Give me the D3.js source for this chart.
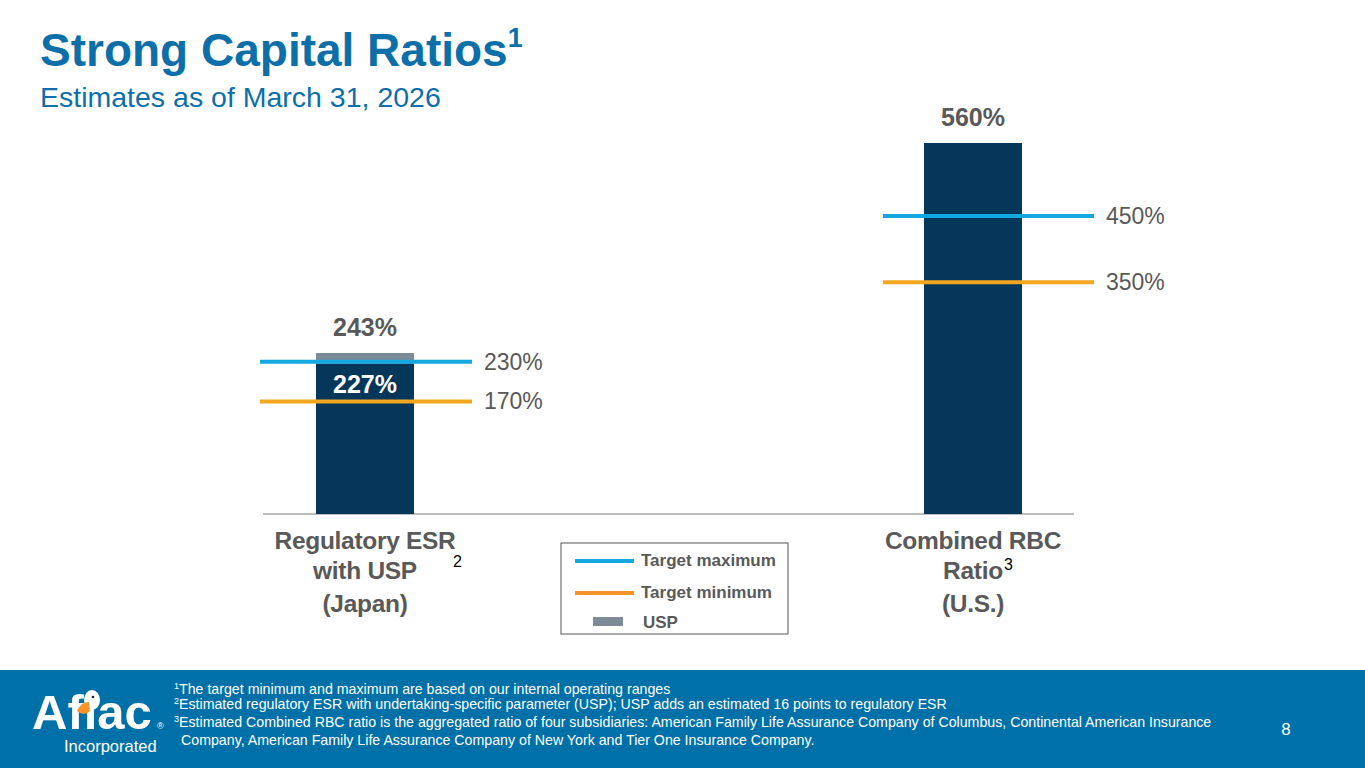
<!DOCTYPE html>
<html>
<head>
<meta charset="utf-8">
<script src="https://cdn.jsdelivr.net/npm/d3@7"></script>
<style>
  body { margin: 0; background: #fff; }
  svg { display: block; font-family: "Liberation Sans", Arial, sans-serif; }
</style>
</head>
<body>
<div id="chart"></div>
<script>
// chart data
const categories = ["Regulatory ESR with USP (Japan)", "Combined RBC Ratio (U.S.)"];
const categoryLines = [["Regulatory ESR", "with USP", "(Japan)"], ["Combined RBC", "Ratio", "(U.S.)"]];
const categoryNotes = ["2", "3"];
const baseValues = [227, 560];
const uspValues = [16, 0];
const totalLabels = ["243%", "560%"];
const baseLabels = ["227%", null];
const targetMax = [230, 450];
const targetMin = [170, 350];
const footnotes = [
  ["1", "The target minimum and maximum are based on our internal operating ranges"],
  ["2", "Estimated regulatory ESR with undertaking-specific parameter (USP); USP adds an estimated 16 points to regulatory ESR"],
  ["3", "Estimated Combined RBC ratio is the aggregated ratio of four subsidiaries: American Family Life Assurance Company of Columbus, Continental American Insurance"],
  ["", "Company, American Family Life Assurance Company of New York and Tier One Insurance Company."]
];

const W = 1365, H = 768;
const navy = "#04375a", blue = "#12a8e0", orange = "#f2a71f", usp = "#7d8b99";
const grey = "#595959", titleBlue = "#0c6fa9";

const svg = d3.select("#chart").append("svg")
  .attr("width", W).attr("height", H);

// title
const title = svg.append("text").attr("x", 40).attr("y", 66)
  .attr("fill", titleBlue).attr("font-size", 46).attr("font-weight", "bold");
title.append("tspan").text("Strong Capital Ratios");
title.append("tspan").text("1").attr("font-size", 27).attr("dy", -19);
svg.append("text").attr("x", 40).attr("y", 107)
  .attr("fill", titleBlue).attr("font-size", 28.5)
  .text("Estimates as of March 31, 2026");

// scales
const x = d3.scalePoint().domain(categories).range([365, 973]);
const y = d3.scaleLinear().domain([0, 560]).range([514, 143]);
const barW = 98;
// horizontal reach of target lines around each bar centre (layout only)
const lineSpan = [[-105, 107], [-90, 121]];

// baseline
svg.append("line")
  .attr("x1", 263).attr("x2", 1074)
  .attr("y1", y(0)).attr("y2", y(0))
  .attr("stroke", "#a6a6a6").attr("stroke-width", 1.5);

const g = svg.selectAll(".cat").data(categories).join("g").attr("class", "cat");

// base bars
g.append("rect")
  .attr("x", d => x(d) - barW / 2)
  .attr("width", barW)
  .attr("y", (d, i) => y(baseValues[i]))
  .attr("height", (d, i) => y(0) - y(baseValues[i]))
  .attr("fill", navy);

// usp segment
g.filter((d, i) => uspValues[i] > 0).append("rect")
  .attr("x", d => x(d) - barW / 2)
  .attr("width", barW)
  .attr("y", d => { const i = categories.indexOf(d); return y(baseValues[i] + uspValues[i]); })
  .attr("height", d => { const i = categories.indexOf(d); return y(baseValues[i]) - y(baseValues[i] + uspValues[i]); })
  .attr("fill", usp);

// target lines
[[targetMax, blue], [targetMin, orange]].forEach(([vals, col]) => {
  g.append("line")
    .attr("x1", (d, i) => x(d) + lineSpan[i][0]).attr("x2", (d, i) => x(d) + lineSpan[i][1])
    .attr("y1", (d, i) => y(vals[i])).attr("y2", (d, i) => y(vals[i]))
    .attr("stroke", col).attr("stroke-width", 4);
  g.append("text")
    .attr("x", (d, i) => x(d) + lineSpan[i][1] + 12)
    .attr("y", (d, i) => y(vals[i]) + 8)
    .attr("fill", grey).attr("font-size", 23)
    .text((d, i) => vals[i] + "%");
});

// totals
g.append("text")
  .attr("x", d => x(d))
  .attr("y", (d, i) => y(baseValues[i] + uspValues[i]) - 17)
  .attr("text-anchor", "middle").attr("fill", grey)
  .attr("font-size", 25).attr("font-weight", "bold")
  .text((d, i) => totalLabels[i]);

// inner label
g.filter((d, i) => baseLabels[i]).append("text")
  .attr("x", d => x(d))
  .attr("y", d => y(baseValues[categories.indexOf(d)]) + 29)
  .attr("text-anchor", "middle").attr("fill", "#fff")
  .attr("font-size", 25).attr("font-weight", "bold")
  .text(d => baseLabels[categories.indexOf(d)]);

// category labels
const lineYs = [549, 579, 612];
g.each(function (d, i) {
  const sel = d3.select(this);
  categoryLines[i].forEach((t, k) => {
    sel.append("text")
      .attr("x", x(d)).attr("y", lineYs[k])
      .attr("text-anchor", "middle").attr("fill", grey)
      .attr("font-size", 24.5).attr("font-weight", "bold")
      .attr("letter-spacing", -0.3)
      .text(t);
  });
});
g.append("text")
  .attr("x", (d, i) => i === 0 ? x(d) + 88 : x(d) + 31)
  .attr("y", (d, i) => i === 0 ? 567 : 570)
  .attr("fill", "#000").attr("font-size", 16)
  .text((d, i) => categoryNotes[i]);

// legend
const lg = svg.append("g").attr("transform", "translate(561,543)");
lg.append("rect").attr("width", 227).attr("height", 91)
  .attr("fill", "#fff").attr("stroke", "#555").attr("stroke-width", 1);
const legendItems = [
  { label: "Target maximum", color: blue, type: "line" },
  { label: "Target minimum", color: "#f7932b", type: "line" },
  { label: "USP", color: usp, type: "rect" }
];
legendItems.forEach((it, k) => {
  if (it.type === "line") {
    const yy = 18 + k * 32;
    lg.append("line").attr("x1", 14).attr("x2", 73).attr("y1", yy).attr("y2", yy)
      .attr("stroke", it.color).attr("stroke-width", 4);
    lg.append("text").attr("x", 80).attr("y", yy + 5)
      .attr("fill", grey).attr("font-size", 17).attr("font-weight", "bold").text(it.label);
  } else {
    lg.append("rect").attr("x", 32).attr("y", 74).attr("width", 30).attr("height", 9)
      .attr("fill", it.color);
    lg.append("text").attr("x", 82).attr("y", 85)
      .attr("fill", grey).attr("font-size", 17).attr("font-weight", "bold").text(it.label);
  }
});

// footer
svg.append("rect").attr("x", 0).attr("y", 670).attr("width", W).attr("height", 98)
  .attr("fill", "#0070a8");

// logo
const logo = svg.append("g").attr("fill", "#fff");
logo.append("text").attr("x", 32).attr("y", 729)
  .attr("font-size", 49).attr("font-weight", "bold")
  .text("Aflac");
logo.append("ellipse").attr("cx", 92).attr("cy", 700).attr("rx", 8).attr("ry", 10).attr("fill", "#fff");
logo.append("path").attr("d", "M77,711 Q81,702 89,702 L90,711 Q84,717 77,711 Z").attr("fill", "#f7932b");
logo.append("circle").attr("cx", 93).attr("cy", 697).attr("r", 1.3).attr("fill", "#222");
logo.append("text").attr("x", 157).attr("y", 729).attr("font-size", 9).text("®");
logo.append("text").attr("x", 64).attr("y", 752).attr("font-size", 16.5).text("Incorporated");

const fyStart = [694, 709, 727, 745];
footnotes.forEach(([sup, txt], k) => {
  const t = svg.append("text").attr("x", sup ? 174 : 181).attr("y", fyStart[k])
    .attr("fill", "#fff").attr("font-size", 14.2);
  if (sup) t.append("tspan").text(sup).attr("font-size", 9).attr("dy", -5);
  t.append("tspan").text(txt).attr("dy", sup ? 5 : 0);
});
svg.append("text").attr("x", 1286).attr("y", 735)
  .attr("text-anchor", "middle").attr("fill", "#fff").attr("font-size", 17).text("8");
</script>
</body>
</html>
